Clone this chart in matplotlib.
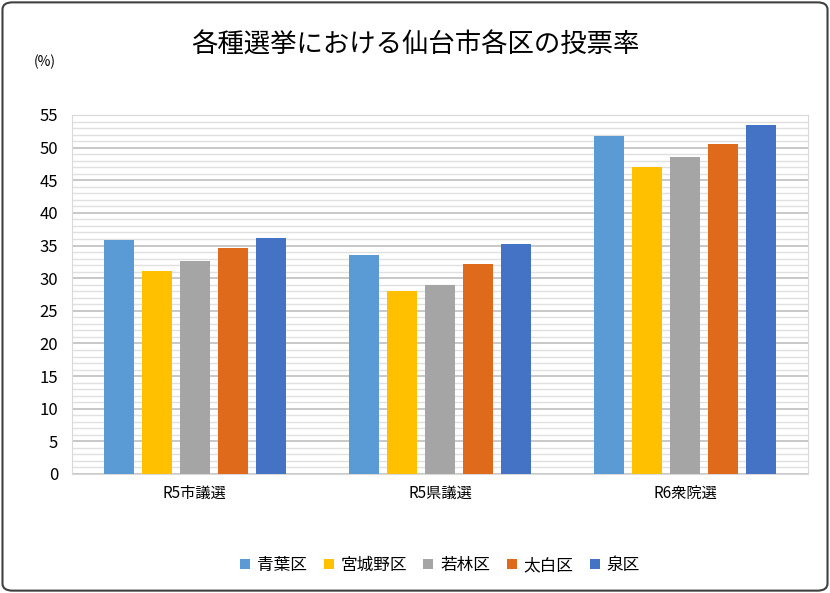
import numpy as np
import matplotlib
matplotlib.use("Agg")
import matplotlib.pyplot as plt
from matplotlib.patches import FancyBboxPatch

plt.rcParams["font.family"] = "Noto Sans CJK JP"

categories = ["R5市議選", "R5県議選", "R6衆院選"]
wards = ["青葉区", "宮城野区", "若林区", "太白区", "泉区"]
values = [
    [35.8, 33.6, 51.8],   # 青葉区
    [31.1, 28.1, 47.1],   # 宮城野区
    [32.7, 28.9, 48.6],   # 若林区
    [34.6, 32.1, 50.5],   # 太白区
    [36.1, 35.3, 53.4],   # 泉区
]
colors = ["#5B9BD5", "#FFC000", "#A5A5A5", "#E06A1B", "#4472C4"]

fig = plt.figure(figsize=(8.3, 5.93), dpi=100)
ax = fig.add_axes([72/830, 1-474/593, 736/830, 359/593])

x = np.arange(len(categories))
bw, step = 0.122, 0.155
for i, (w, v, c) in enumerate(zip(wards, values, colors)):
    ax.bar(x + (i - 2) * step, v, width=bw, color=c, label=w, zorder=3)

ax.set_xlim(-0.5, 2.5)
ax.set_ylim(0, 55)
ax.set_yticks(range(0, 56, 5))
ax.set_yticks(range(0, 56, 1), minor=True)
ax.grid(axis="y", which="major", color="#BFBFBF", lw=1.2, zorder=0)
ax.grid(axis="y", which="minor", color="#E0E0E0", lw=1.0, zorder=0)
ax.tick_params(which="both", length=0)
ax.tick_params(axis="y", labelsize=12, pad=10)
ax.set_xticks(x)
ax.set_xticklabels(categories, fontsize=11)
ax.tick_params(axis="x", pad=8)
for s in ax.spines.values():
    s.set_color("#D9D9D9")

fig.text(0.5, 1-45/593, "各種選挙における仙台市各区の投票率", ha="center", va="center", fontsize=19)
fig.text(45/830, 1-62/593, "(%)", ha="center", va="center", fontsize=10)

ax.legend(loc="center", bbox_to_anchor=(0.5, -0.255), ncol=5, frameon=False,
          fontsize=12, handlelength=0.6, handleheight=0.6, columnspacing=1.0, handletextpad=0.4)

border = FancyBboxPatch((0.003, 0.004), 0.994, 0.992, boxstyle="round,pad=0,rounding_size=0.012",
                        transform=fig.transFigure, fill=False, edgecolor="#404040", lw=1.5)
fig.patches.append(border)

fig.savefig("out.png", dpi=100)
